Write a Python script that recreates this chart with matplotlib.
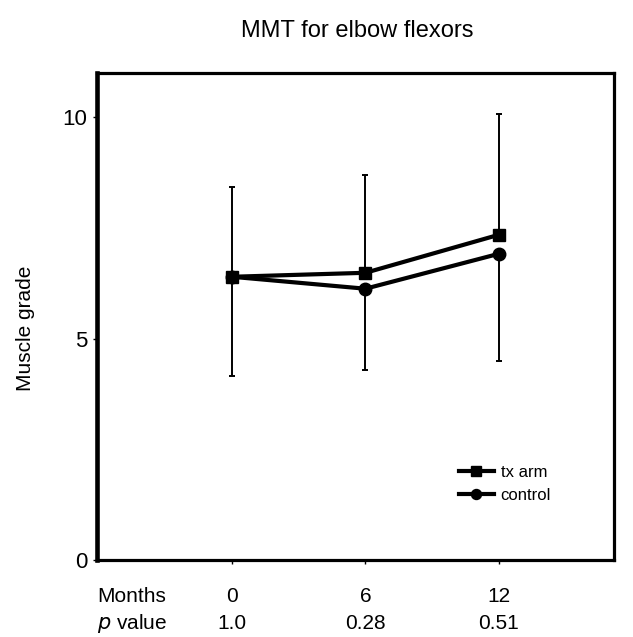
import numpy as np
import matplotlib.pyplot as plt

plt.rcParams['font.family'] = ['Liberation Sans', 'DejaVu Sans']

# dati
months = [0, 6, 12]
p_values = ['1.0', '0.28', '0.51']
tx_arm = [6.40, 6.49, 7.35]
control = [6.40, 6.13, 6.92]
tx_upper = [8.44, 8.69, 10.09]     # estremo superiore barre (tx arm)
ctrl_lower = [4.16, 4.30, 4.50]    # estremo inferiore barre (control)

fig = plt.figure(figsize=(6.33, 6.37), dpi=100)
ax = fig.add_axes([0.153, 0.121, 0.817, 0.764])

tx_err = [np.zeros(3), np.array(tx_upper) - np.array(tx_arm)]
ctrl_err = [np.array(control) - np.array(ctrl_lower), np.zeros(3)]

ax.errorbar(months, tx_arm, yerr=tx_err, color='black', ecolor='black',
            elinewidth=1.4, capsize=2, capthick=1.4, lw=0, zorder=2)
ax.errorbar(months, control, yerr=ctrl_err, color='black', ecolor='black',
            elinewidth=1.4, capsize=2, capthick=1.4, lw=0, zorder=2)

ax.plot(months, tx_arm, color='black', lw=3, marker='s', markersize=9, label='tx arm', zorder=3)
ax.plot(months, control, color='black', lw=3, marker='o', markersize=9, label='control', zorder=3)

ax.set_xlim(-6.07, 17.17)
ax.set_ylim(0, 11)
ax.set_yticks([0, 5, 10])
ax.set_yticklabels(['0', '5', '10'], fontsize=16)
ax.set_xticks(months)
ax.set_xticklabels([])
ax.tick_params(axis='both', length=3, width=1, direction='out', pad=4)

for side in ['top', 'right', 'bottom']:
    ax.spines[side].set_linewidth(2.3)
ax.spines['left'].set_linewidth(3.3)

ax.set_ylabel('Muscle grade', fontsize=15)
ax.yaxis.set_label_coords(-0.12, 0.475)

# tabella sotto l'asse x
tr = ax.get_xaxis_transform()
row1, row2 = -0.075, -0.130
ax.text(-4.5, row1, 'Months', transform=tr, ha='center', va='center', fontsize=15)
ax.text(-4.5, row2, '$p$ value', transform=tr, ha='center', va='center', fontsize=15)
for m, p in zip(months, p_values):
    ax.text(m, row1, str(m), transform=tr, ha='center', va='center', fontsize=15)
    ax.text(m, row2, p, transform=tr, ha='center', va='center', fontsize=15)

ax.legend(loc='center left', bbox_to_anchor=(0.70, 0.156), frameon=False, fontsize=12,
          handlelength=2.1, handletextpad=0.4, labelspacing=0.5, borderpad=0,
          borderaxespad=0, markerscale=0.8)

fig.text(0.565, 0.951, 'MMT for elbow flexors', ha='center', va='center', fontsize=17)

fig.savefig('out.png', dpi=100)
plt.close(fig)
